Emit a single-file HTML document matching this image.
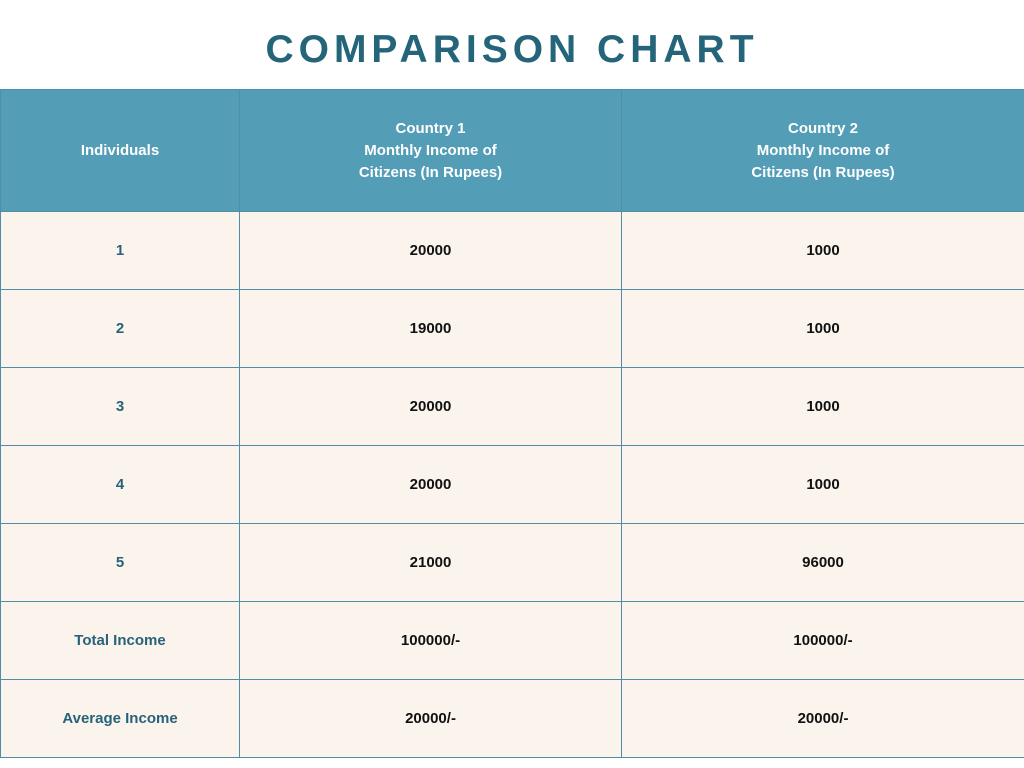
<!DOCTYPE html>
<html><head><meta charset="utf-8"><style>
body{margin:0;width:1024px;height:768px;background:#fff;font-family:"Liberation Sans",sans-serif;position:relative;overflow:hidden}
.t{position:absolute;left:0;width:1024px;top:28px;text-align:center;font-size:39px;font-weight:bold;letter-spacing:5px;color:#24657a}
.c{position:absolute;display:flex;align-items:center;justify-content:center;text-align:center;box-sizing:border-box;font-weight:bold;font-size:15px;border:1px solid #4f8ea6}
.h{background:#549db7;color:#fff;line-height:22px}
.b{background:#fbf4ec;color:#111}
.l{color:#27627a}
</style></head><body>
<div class="t">COMPARISON CHART</div>
<div id="tbl"></div>
<script>
const individuals=["1","2","3","4","5","Total Income","Average Income"];
const country1=["20000","19000","20000","20000","21000","100000/-","20000/-"];
const country2=["1000","1000","1000","1000","96000","100000/-","20000/-"];
const headers=["Individuals","Country 1<br>Monthly Income of<br>Citizens (In Rupees)","Country 2<br>Monthly Income of<br>Citizens (In Rupees)"];
const tbl=document.getElementById('tbl');
const xs=[0,239,621,1024];
function cell(x0,x1,y0,y1,cls,html){const d=document.createElement('div');d.className='c '+cls;d.style.left=x0+'px';d.style.width=(x1-x0+1)+'px';d.style.top=y0+'px';d.style.height=(y1-y0+1)+'px';d.innerHTML=html;tbl.appendChild(d);return d;}
headers.forEach((h,i)=>{const d=cell(xs[i],xs[i+1],89,211,'h',h);

});
individuals.forEach((v,r)=>{const y0=211+r*78,y1=y0+78;
const cols=[v,country1[r],country2[r]];
cols.forEach((t,i)=>{const d=cell(xs[i],xs[i+1],y0,y1,'b'+(i==0?' l':''),t);

});});
</script>
</body></html>
